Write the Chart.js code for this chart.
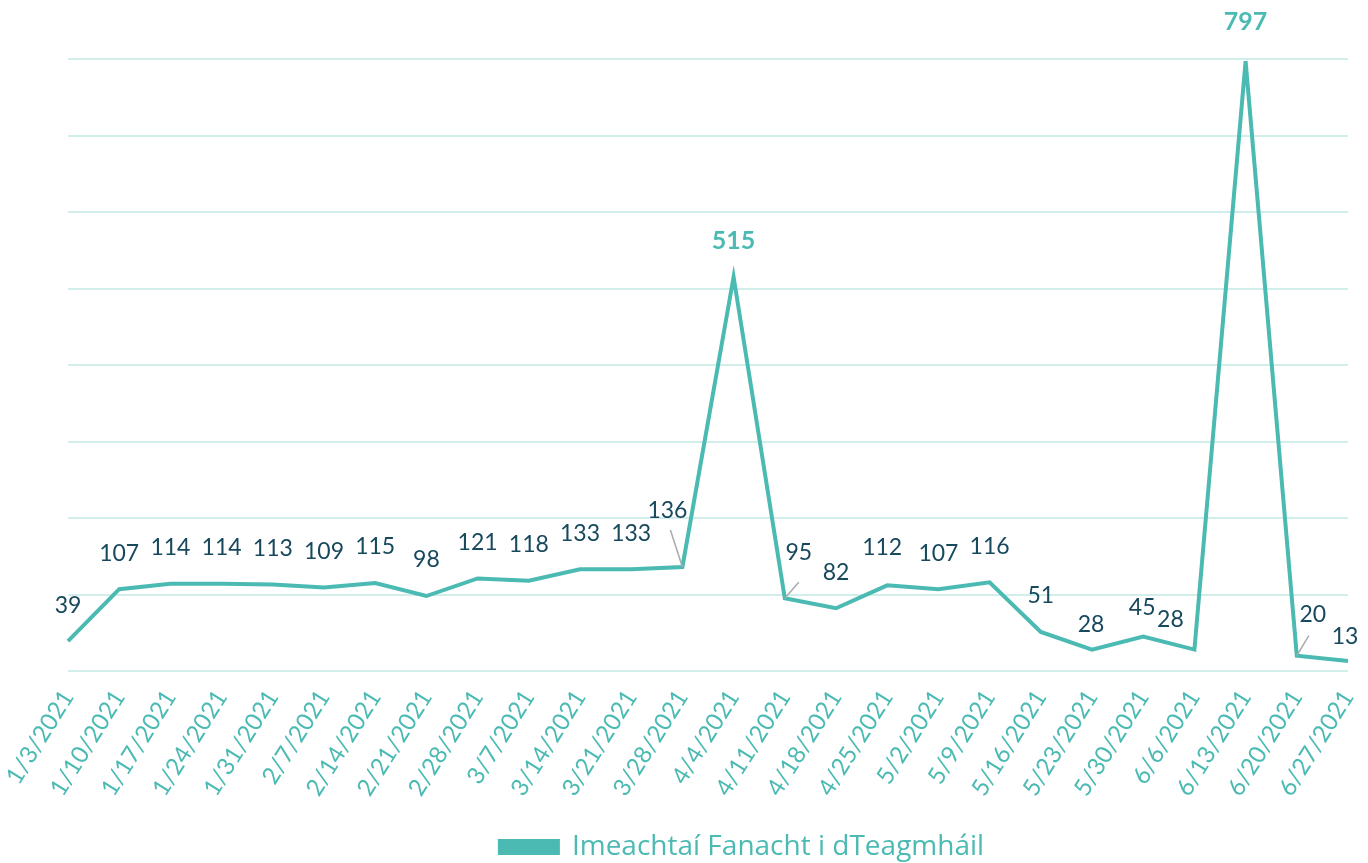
<!DOCTYPE html>
<html lang="ga">
<head>
    <meta charset="UTF-8">
    <title>Imeachtaí Fanacht i dTeagmháil</title>
    <style>
        body {
            margin: 0;
            padding: 0;
            background: #fff;
        }
        .chart-wrap {
            position: relative;
            width: 1368px;
            height: 863px;
        }
    </style>
    <script src="https://cdn.jsdelivr.net/npm/chart.js@4"></script>
</head>
<body>
    <div class="chart-wrap">
        <canvas id="eventsChart"></canvas>
    </div>
    <script>
        // Weekly dates (x axis)
        const weeks = ['1/3/2021', '1/10/2021', '1/17/2021', '1/24/2021', '1/31/2021', '2/7/2021', '2/14/2021',
            '2/21/2021', '2/28/2021', '3/7/2021', '3/14/2021', '3/21/2021', '3/28/2021', '4/4/2021',
            '4/11/2021', '4/18/2021', '4/25/2021', '5/2/2021', '5/9/2021', '5/16/2021', '5/23/2021',
            '5/30/2021', '6/6/2021', '6/13/2021', '6/20/2021', '6/27/2021'];

        // Event counts
        const eventCounts = [39, 107, 114, 114, 113, 109, 115, 98, 121, 118, 133, 133, 136, 515,
            95, 82, 112, 107, 116, 51, 28, 45, 28, 797, 20, 13];

        const seriesName = 'Imeachtaí Fanacht i dTeagmháil';
        const peakIndexes = [13, 23];

        const teal = '#4bbab3';
        const navy = '#17485c';
        const gridTeal = '#d2eeeb';
        const fontFamily = 'Lato, "Open Sans", sans-serif';

        // label placement relative to the point: [dx, dy, leader end dx, leader end dy]
        const labelOffsets = {
            12: [-15, -56, -12, -37],
            14: [14, -46, 14, -16],
            16: [-5, -38],
            20: [-1, -25],
            21: [-1, -29],
            22: [-24, -30],
            24: [16, -41, 12, -20],
            25: [-3, -24],
            23: [0, -39]
        };

        const pointLabels = {
            id: 'pointLabels',
            afterDatasetsDraw(chart) {
                const ctx = chart.ctx;
                const meta = chart.getDatasetMeta(0);
                ctx.save();
                ctx.textAlign = 'center';
                ctx.textBaseline = 'middle';
                meta.data.forEach((pt, i) => {
                    const off = labelOffsets[i] || [0, -36];
                    if (off.length > 2) {
                        ctx.strokeStyle = '#a9a9a9';
                        ctx.lineWidth = 1.5;
                        ctx.beginPath();
                        ctx.moveTo(pt.x, pt.y);
                        ctx.lineTo(pt.x + off[2], pt.y + off[3]);
                        ctx.stroke();
                    }
                    if (peakIndexes.includes(i)) {
                        ctx.font = 'bold 25px ' + fontFamily;
                        ctx.fillStyle = teal;
                    } else {
                        ctx.font = '23px ' + fontFamily;
                        ctx.fillStyle = navy;
                    }
                    ctx.fillText(String(eventCounts[i]), pt.x + off[0], pt.y + off[1]);
                });
                ctx.restore();
            }
        };

        const ctx = document.getElementById('eventsChart').getContext('2d');
        const eventsChart = new Chart(ctx, {
            type: 'line',
            data: {
                labels: weeks,
                datasets: [{
                    label: seriesName,
                    data: eventCounts,
                    borderColor: teal,
                    backgroundColor: teal,
                    borderWidth: 4,
                    pointRadius: 0,
                    tension: 0,
                    fill: false
                }]
            },
            options: {
                responsive: true,
                maintainAspectRatio: false,
                animation: false,
                layout: {
                    padding: { left: 68, right: 20, top: 59, bottom: 4 }
                },
                scales: {
                    x: {
                        offset: false,
                        grid: { display: false },
                        border: { display: false },
                        ticks: {
                            color: teal,
                            autoSkip: false,
                            minRotation: 58,
                            maxRotation: 58,
                            padding: 6,
                            font: { family: fontFamily, size: 24 }
                        },
                        afterFit(scale) {
                            const legendH = scale.chart.legend ? scale.chart.legend.height : 0;
                            scale.height = scale.chart.height - 671 - legendH - 4;
                            scale.paddingLeft = 0;
                            scale.paddingRight = 0;
                        }
                    },
                    y: {
                        min: 0,
                        max: 800,
                        ticks: { display: false, stepSize: 100 },
                        grid: { color: gridTeal, lineWidth: 2, drawTicks: false },
                        border: { display: false },
                        afterFit(scale) {
                            scale.width = 0;
                        }
                    }
                },
                plugins: {
                    legend: {
                        position: 'bottom',
                        labels: {
                            color: teal,
                            boxWidth: 58,
                            boxHeight: 12,
                            padding: 6,
                            font: { family: '"Open Sans", Lato, sans-serif', size: 28 }
                        }
                    },
                    tooltip: { enabled: false }
                }
            },
            plugins: [pointLabels, {
                id: 'legendShift',
                afterLayout(chart) {
                    chart.legend.left += 34;
                    chart.legend.right += 34;
                    chart.legend.top += 12;
                    chart.legend.bottom += 12;
                }
            }]
        });
    </script>
</body>
</html>
